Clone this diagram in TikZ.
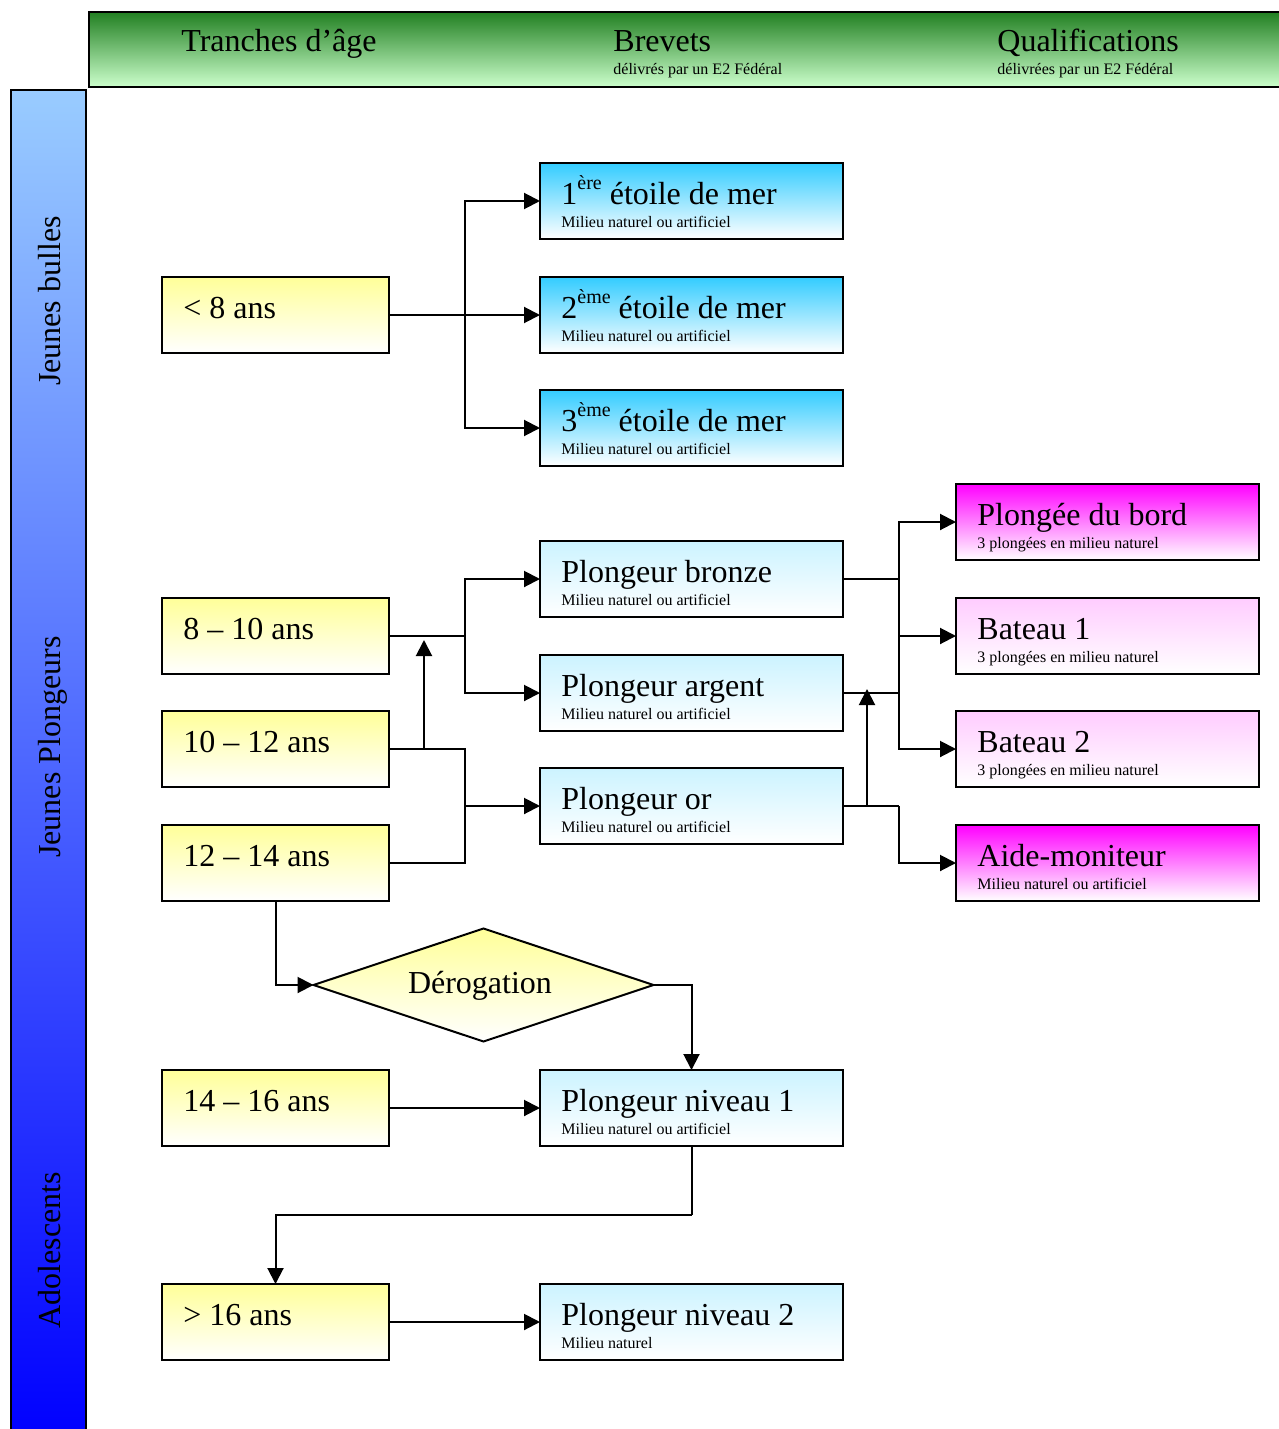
\documentclass[tikz,border=0pt]{standalone}
\usepackage{fontspec}
\setmainfont{Liberation Serif}
\usetikzlibrary{arrows.meta,shapes.geometric}
\definecolor{ylw}{RGB}{255,255,153}
\definecolor{cyanD}{RGB}{51,204,255}
\definecolor{cyanL}{RGB}{204,243,255}
\definecolor{mag}{RGB}{255,0,255}
\definecolor{pinkL}{RGB}{255,204,255}
\definecolor{grnD}{RGB}{34,128,34}
\definecolor{grnL}{RGB}{204,255,204}
\definecolor{blueT}{RGB}{153,204,255}
\definecolor{blueB}{RGB}{0,0,255}
\newcommand\bigf{\fontsize{16}{19}\selectfont}
\newcommand\smf{\fontsize{8}{9.6}\selectfont}
\newcommand\supx[1]{\raisebox{7.5pt}{\fontsize{10}{10}\selectfont #1}}
\begin{document}
\begin{tikzpicture}[x=0.5pt,y=-0.5pt,
  box/.style={draw=black, line width=1pt, anchor=north west, inner sep=0pt, outer sep=0pt, minimum height=38pt},
  agebox/.style={box, minimum width=113.5pt, top color=ylw, bottom color=white},
  etbox/.style={box, minimum width=151.5pt, top color=cyanD, bottom color=white},
  plbox/.style={box, minimum width=151.5pt, top color=cyanL, bottom color=white},
  magbox/.style={box, minimum width=151.5pt, top color=mag, bottom color=white},
  pkbox/.style={box, minimum width=151.5pt, top color=pinkL, bottom color=white},
  txt/.style={anchor=base west, inner sep=0pt},
  conn/.style={line width=1pt},
  arr/.style={conn, -{Triangle[length=8pt,width=8pt]}}
]
\useasboundingbox (0,0) rectangle (1279,1429);
\clip (0,0) rectangle (1279,1429);

% header and side bar
\node[draw=black, line width=1pt, anchor=north west, inner sep=0pt, outer sep=0pt,
  minimum width=600.5pt, minimum height=37.5pt, top color=grnD, bottom color=grnL] (hdr) at (89,12) {};
\node[draw=black, line width=1pt, anchor=north west, inner sep=0pt, outer sep=0pt,
  minimum width=37.5pt, minimum height=675pt, top color=blueT, bottom color=blueB] (side) at (11,90) {};

\node[txt] (h1) at (181,52) {\bigf Tranches d’âge};
\node[txt] (h2) at (613,52) {\bigf Brevets};
\node[txt] (h2s) at (613,75) {\smf délivrés par un E2 Fédéral};
\node[txt] (h3) at (997,52) {\bigf Qualifications};
\node[txt] (h3s) at (997,75) {\smf délivrées par un E2 Fédéral};

\node[rotate=90, anchor=base, inner sep=0pt] (s1) at (61,301) {\bigf Jeunes bulles};
\node[rotate=90, anchor=base, inner sep=0pt] (s2) at (61,747) {\bigf Jeunes Plongeurs};
\node[rotate=90, anchor=base, inner sep=0pt] (s3) at (61,1250) {\bigf Adolescents};

% age boxes
\node[agebox] (y8) at (162,277) {};
\node[txt] (y8t) at (183,318) {\bigf < 8 ans};
\node[agebox] (y10) at (162,598) {};
\node[txt] (y10t) at (183,639) {\bigf 8 – 10 ans};
\node[agebox] (y12) at (162,711) {};
\node[txt] (y12t) at (183,752) {\bigf 10 – 12 ans};
\node[agebox] (y14) at (162,825) {};
\node[txt] (y14t) at (183,866) {\bigf 12 – 14 ans};
\node[agebox] (y16) at (162,1070) {};
\node[txt] (y16t) at (183,1111) {\bigf 14 – 16 ans};
\node[agebox] (y99) at (162,1284) {};
\node[txt] (y99t) at (183,1325) {\bigf > 16 ans};

% brevets
\node[etbox] (e1) at (540,163) {};
\node[txt] (e1t) at (561,204) {\bigf 1\supx{ère} étoile de mer};
\node[txt] (e1s) at (561,227) {\smf Milieu naturel ou artificiel};
\node[etbox] (e2) at (540,277) {};
\node[txt] (e2t) at (561,318) {\bigf 2\supx{ème} étoile de mer};
\node[txt] (e2s) at (561,341) {\smf Milieu naturel ou artificiel};
\node[etbox] (e3) at (540,390) {};
\node[txt] (e3t) at (561,431) {\bigf 3\supx{ème} étoile de mer};
\node[txt] (e3s) at (561,454) {\smf Milieu naturel ou artificiel};

\node[plbox] (pb) at (540,541) {};
\node[txt] (pbt) at (561,582) {\bigf Plongeur bronze};
\node[txt] (pbs) at (561,605) {\smf Milieu naturel ou artificiel};
\node[plbox] (pa) at (540,655) {};
\node[txt] (pat) at (561,696) {\bigf Plongeur argent};
\node[txt] (pas) at (561,719) {\smf Milieu naturel ou artificiel};
\node[plbox] (po) at (540,768) {};
\node[txt] (pot) at (561,809) {\bigf Plongeur or};
\node[txt] (pos) at (561,832) {\smf Milieu naturel ou artificiel};
\node[plbox] (n1) at (540,1070) {};
\node[txt] (n1t) at (561,1111) {\bigf Plongeur niveau 1};
\node[txt] (n1s) at (561,1134) {\smf Milieu naturel ou artificiel};
\node[plbox] (n2) at (540,1284) {};
\node[txt] (n2t) at (561,1325) {\bigf Plongeur niveau 2};
\node[txt] (n2s) at (561,1348) {\smf Milieu naturel};

% qualifications
\node[magbox] (q1) at (956,484) {};
\node[txt] (q1t) at (977,525) {\bigf Plongée du bord};
\node[txt] (q1s) at (977,548) {\smf 3 plongées en milieu naturel};
\node[pkbox] (q2) at (956,598) {};
\node[txt] (q2t) at (977,639) {\bigf Bateau 1};
\node[txt] (q2s) at (977,662) {\smf 3 plongées en milieu naturel};
\node[pkbox] (q3) at (956,711) {};
\node[txt] (q3t) at (977,752) {\bigf Bateau 2};
\node[txt] (q3s) at (977,775) {\smf 3 plongées en milieu naturel};
\node[magbox] (q4) at (956,825) {};
\node[txt] (q4t) at (977,866) {\bigf Aide-moniteur};
\node[txt] (q4s) at (977,889) {\smf Milieu naturel ou artificiel};

% derogation
\node[diamond, draw=black, line width=1pt, inner sep=0pt, outer sep=0pt, minimum width=170pt, minimum height=56.5pt,
  top color=ylw, bottom color=white] (dia) at (483.5,985) {};
\node[anchor=base, inner sep=0pt] (diat) at (480,993) {\bigf Dérogation};

% junction coordinates
\coordinate (j1) at (465,315);
\coordinate (j2) at (465,636);
\coordinate (j3) at (465,806);
\coordinate (u1) at (424,749);
\coordinate (u1e) at (424,640);
\coordinate (k1) at (899,636);
\coordinate (k2) at (899,806);
\coordinate (u2) at (867,806);
\coordinate (u2e) at (867,689);
\coordinate (m1) at (691.5,1215);

% connectors
\draw[conn] (y8.east) -- (j1);
\draw[arr] (j1) |- (e1.west);
\draw[arr] (j1) -- (e2.west);
\draw[arr] (j1) |- (e3.west);

\draw[conn] (y10.east) -- (j2);
\draw[arr] (j2) |- (pb.west);
\draw[arr] (j2) |- (pa.west);

\draw[conn] (y12.east) -| (j3);
\draw[conn] (y14.east) -| (j3);
\draw[arr] (j3) -- (po.west);
\draw[arr] (u1) -- (u1e);

\draw[conn] (pb.east) -| (k1);
\draw[conn] (pa.east) -| (k1);
\draw[arr] (k1) |- (q1.west);
\draw[arr] (k1) -- (q2.west);
\draw[arr] (k1) |- (q3.west);
\draw[conn] (po.east) -- (k2);
\draw[arr] (k2) |- (q4.west);
\draw[arr] (u2) -- (u2e);

\draw[arr] (y14.south) |- (dia.west);
\draw[arr] (dia.east) -| (n1.north);
\draw[arr] (y16.east) -- (n1.west);
\draw[conn] (n1.south) -- (m1);
\draw[arr] (m1) -| (y99.north);
\draw[arr] (y99.east) -- (n2.west);
\end{tikzpicture}
\end{document}
